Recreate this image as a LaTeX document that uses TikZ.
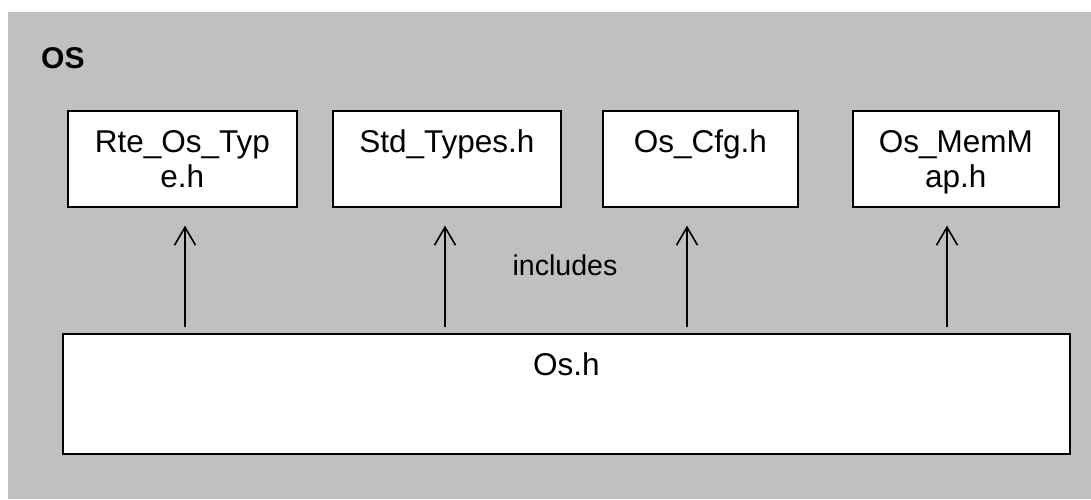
\documentclass[tikz,border=0pt]{standalone}
\usepackage{fontspec}
\setmainfont{Liberation Sans}
\usetikzlibrary{arrows.meta}
\definecolor{osgray}{HTML}{C0C0C0}
\tikzset{
  filebox/.style={draw=black, line width=1.6pt, fill=white, inner sep=0pt,
    anchor=north west, minimum height=96pt, text height=42pt, text depth=54pt,
    font=\fontsize{31.5}{35}\selectfont},
  inclarrow/.style={line width=1.6pt, -{Straight Barb[length=18pt,width=21pt]}},
}
\newcommand{\twoline}[2]{\begin{tabular}[t]{@{}c@{}}#1\\#2\end{tabular}}
\begin{document}
\begin{tikzpicture}[x=1pt,y=-1pt]
  \useasboundingbox (0,0) rectangle (1091,499);
  \fill[white] (0,0) rectangle (1091,499);
  % component frame
  \fill[osgray] (8,12) rectangle (1091,499);
  \node[anchor=base west, inner sep=0pt, font=\fontsize{30}{36}\selectfont\bfseries] (oslabel) at (41,68) {OS};

  % included headers
  \node[filebox, minimum width=229pt] (rte) at (67,110) {\twoline{Rte\_Os\_Typ}{e.h}};
  \node[filebox, minimum width=228pt] (std) at (332,110) {\twoline{Std\_Types.h}{}};
  \node[filebox, minimum width=195pt] (cfg) at (602,110) {\twoline{Os\_Cfg.h}{}};
  \node[filebox, minimum width=206pt] (mem) at (852,110) {\twoline{Os\_MemM}{ap.h}};

  % including header
  \node[draw=black, line width=1.6pt, fill=white, inner sep=0pt, anchor=north west,
        minimum width=1007pt, minimum height=120pt, text height=22pt, text depth=58pt,
        font=\fontsize{31.5}{35}\selectfont] (osh) at (62,333) {Os.h};

  \node[anchor=base, inner sep=0pt, font=\fontsize{28.6}{34}\selectfont] (incl) at (565,275) {includes};

  % include relations
  \coordinate (x1) at (185,0);
  \coordinate (x2) at (445,0);
  \coordinate (x3) at (687,0);
  \coordinate (x4) at (947,0);
  \draw[inclarrow] ([yshift=6pt]osh.north -| x1) -- ([yshift=-18pt]rte.south -| x1);
  \draw[inclarrow] ([yshift=6pt]osh.north -| x2) -- ([yshift=-18pt]std.south -| x2);
  \draw[inclarrow] ([yshift=6pt]osh.north -| x3) -- ([yshift=-18pt]cfg.south -| x3);
  \draw[inclarrow] ([yshift=6pt]osh.north -| x4) -- ([yshift=-18pt]mem.south -| x4);
\end{tikzpicture}
\end{document}
